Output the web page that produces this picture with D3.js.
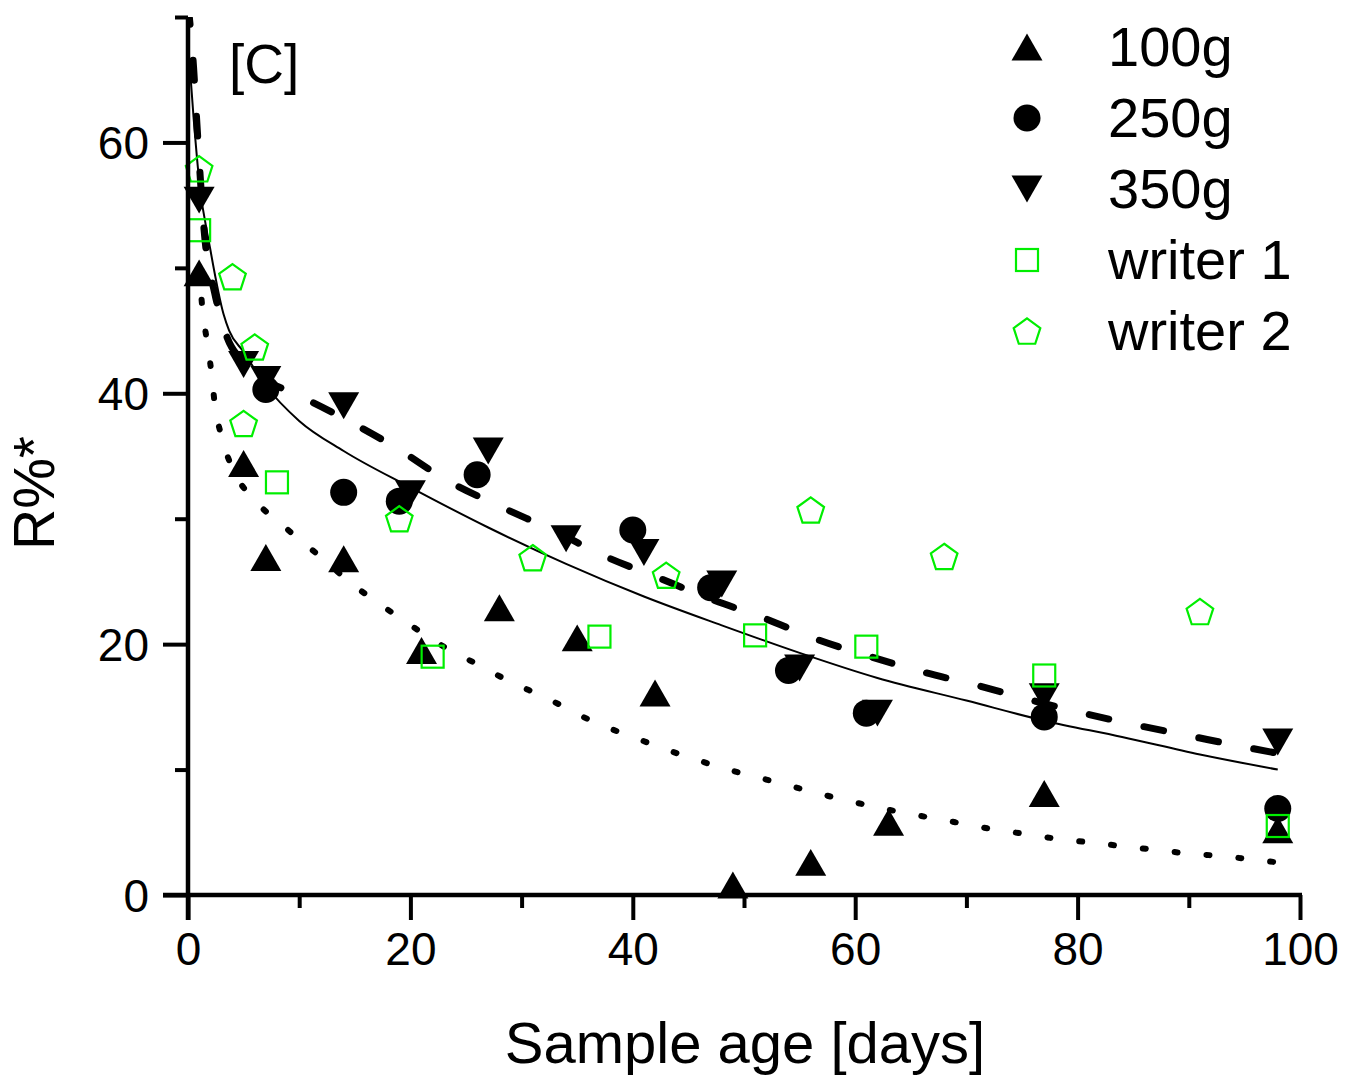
<!DOCTYPE html>
<html>
<head>
<meta charset="utf-8">
<script src="https://cdn.jsdelivr.net/npm/d3@7"></script>
<style>
  html, body { margin: 0; padding: 0; background: #fff; }
  svg { display: block; font-family: "Liberation Sans", Arial, sans-serif; }
</style>
</head>
<body>
<div id="chart"></div>
<script>
// Measured points [day, R%*]
const series100g = [[1, 49.6], [5, 34.4], [7, 26.9], [14, 26.8], [21, 19.5], [28, 22.9], [35, 20.5],
  [42, 16.1], [49, 0.8], [56, 2.6], [63, 5.8], [77, 8.1], [98, 5.2]];
const series250g = [[7, 40.3], [14, 32.1], [19, 31.4], [26, 33.5], [40, 29.1], [47, 24.5], [54, 17.9],
  [61, 14.5], [77, 14.2], [98, 6.9]];
const series350g = [[1, 55.4], [5, 42.3], [7, 41.1], [14, 39.0], [20, 32.0], [27, 35.4], [34, 28.4],
  [41, 27.3], [48, 24.8], [55, 18.1], [62, 14.5], [77, 15.8], [98, 12.2]];
const seriesWriter1 = [[1, 53.0], [8, 32.9], [22, 19.0], [37, 20.6], [51, 20.7], [61, 19.8], [77, 17.5], [98, 5.5]];
const seriesWriter2 = [[1, 57.9], [4, 49.3], [6, 43.7], [5, 37.6], [19, 30.0], [31, 26.9], [43, 25.5],
  [56, 30.7], [68, 27.0], [91, 22.6]];

// Fitted curves
const fitSolid = [[0, 68], [0.5, 62], [1, 57], [2, 51.5], [3.2, 46.3], [3.7, 45], [5, 43.3], [7, 40.6],
  [10, 37.8], [14, 35.4], [20, 32.5], [27, 29.3], [34, 26.4], [41, 23.8], [48, 21.5], [55, 19.3],
  [62, 17.3], [70, 15.5], [77, 13.9], [84, 12.6], [91, 11.2], [98, 10]];
const fitDashed = [[0, 71], [0.5, 66], [0.8, 61.5], [1.5, 52.5], [2.4, 48], [3.5, 44.5], [5, 42.5],
  [7, 41], [9, 40.2], [14, 38], [19, 35.5], [23, 33.2], [28, 31], [33, 29], [37.5, 27],
  [42, 25.4], [47, 23.6], [52, 22], [56.5, 20.4], [61, 19.1], [66, 17.8], [71, 16.7],
  [76, 15.5], [80.5, 14.5], [85, 13.6], [90, 12.7], [95, 11.8], [98, 11.3]];
const fitDotted = [[1, 50], [1.3, 46.7], [1.7, 44.2], [2.1, 41.7], [2.4, 39.2], [3, 36.6], [4, 34],
  [6, 31.5], [9, 29.1], [12, 26.9], [14.6, 24.9], [17.4, 23.1], [20.2, 21.4], [23, 19.8],
  [26, 18.4], [29, 17], [32, 15.8], [37, 13.6], [40, 12.6], [43, 11.6], [46, 10.7], [49, 9.9],
  [52, 9.2], [55, 8.5], [58, 7.8], [63, 6.8], [69, 5.8], [72, 5.3], [75, 4.9], [78, 4.5],
  [81, 4.2], [84, 3.9], [87, 3.6], [90, 3.3], [93, 3.1], [96, 2.8], [98, 2.6]];

const xTicksMajor = [0, 20, 40, 60, 80, 100];
const xTicksMinor = [10, 30, 50, 70, 90];
const yTicksMajor = [0, 20, 40, 60];
const yTicksMinor = [10, 30, 50, 70];
const legendLabels = ["100g", "250g", "350g", "writer 1", "writer 2"];

const W = 1356, H = 1088;
const margin = { top: 17, right: 56, bottom: 193, left: 188 };
const width = W - margin.left - margin.right;
const height = H - margin.top - margin.bottom;

const svg = d3.select("#chart").append("svg")
  .attr("width", W).attr("height", H);
const g = svg.append("g").attr("transform", `translate(${margin.left},${margin.top})`);

const x = d3.scaleLinear().domain([0, 100]).range([0, width]);
const y = d3.scaleLinear().domain([0, 70]).range([height, 0]);

const green = "#00ee00";

// marker shapes
function triUp(s) { return `M0,${-s * 0.87}L${s},${s * 0.87}L${-s},${s * 0.87}Z`; }
function triDown(s) { return `M0,${s * 0.87}L${s},${-s * 0.87}L${-s},${-s * 0.87}Z`; }
function pent(r) {
  const pts = d3.range(5).map(i => {
    const a = -Math.PI / 2 + i * 2 * Math.PI / 5;
    return [r * Math.cos(a), r * Math.sin(a) + r * 0.1];
  });
  return "M" + pts.map(p => p.join(",")).join("L") + "Z";
}

const markers = [
  { data: series100g, draw: sel => sel.append("path").attr("d", triUp(15.5)).attr("fill", "#000") },
  { data: series250g, draw: sel => sel.append("circle").attr("r", 13.5).attr("fill", "#000") },
  { data: series350g, draw: sel => sel.append("path").attr("d", triDown(15.5)).attr("fill", "#000") },
  { data: seriesWriter1, draw: sel => sel.append("rect").attr("x", -11).attr("y", -11).attr("width", 22).attr("height", 22)
      .attr("fill", "none").attr("stroke", green).attr("stroke-width", 2.2) },
  { data: seriesWriter2, draw: sel => sel.append("path").attr("d", pent(14))
      .attr("fill", "none").attr("stroke", green).attr("stroke-width", 2.2) }
];

// fitted lines
const line = d3.line().x(d => x(d[0])).y(d => y(d[1])).curve(d3.curveMonotoneX);
svg.append("defs").append("clipPath").attr("id", "clip")
  .append("rect").attr("x", 0).attr("y", 0).attr("width", width + 10).attr("height", height);

const lines = g.append("g").attr("clip-path", "url(#clip)");
lines.append("path").datum(fitDotted).attr("d", line)
  .attr("fill", "none").attr("stroke", "#000").attr("stroke-width", 6)
  .attr("stroke-linecap", "round").attr("stroke-dasharray", "3 29");
lines.append("path").datum(fitDashed).attr("d", line)
  .attr("fill", "none").attr("stroke", "#000").attr("stroke-width", 7)
  .attr("stroke-linecap", "round").attr("stroke-dasharray", "20 36");
lines.append("path").datum(fitSolid).attr("d", line)
  .attr("fill", "none").attr("stroke", "#000").attr("stroke-width", 2);

// scatter markers
markers.forEach(m => {
  m.data.forEach(d => {
    const grp = g.append("g").attr("transform", `translate(${x(d[0])},${y(d[1])})`);
    m.draw(grp);
  });
});

// axes
const xAxis = g.append("g").attr("transform", `translate(0,${height})`)
  .call(d3.axisBottom(x).tickValues(xTicksMajor).tickSize(25).tickPadding(12).tickFormat(d3.format("d")));
const xMinor = g.append("g").attr("transform", `translate(0,${height})`)
  .call(d3.axisBottom(x).tickValues(xTicksMinor).tickSize(13).tickFormat(""));
const yAxis = g.append("g")
  .call(d3.axisLeft(y).tickValues(yTicksMajor).tickSize(25).tickPadding(14).tickFormat(d3.format("d")));
const yMinor = g.append("g")
  .call(d3.axisLeft(y).tickValues(yTicksMinor).tickSize(13).tickFormat(""));

[xAxis, xMinor, yAxis, yMinor].forEach(a => {
  a.select(".domain").remove();
  a.selectAll(".tick line").attr("stroke", "#000").attr("stroke-width", 4);
  a.selectAll(".tick text").attr("font-size", 46).attr("fill", "#000")
    .attr("font-family", "'Liberation Sans', Arial, sans-serif");
});
yAxis.selectAll(".tick text").attr("dy", "0.35em");

// axis lines on top
g.append("line").attr("x1", -25).attr("x2", width + 2).attr("y1", height).attr("y2", height)
  .attr("stroke", "#000").attr("stroke-width", 4.5);
g.append("line").attr("x1", 0).attr("x2", 0).attr("y1", 0).attr("y2", height + 25)
  .attr("stroke", "#000").attr("stroke-width", 4.5);

// axis titles
svg.append("text").attr("x", 745).attr("y", 1063).attr("text-anchor", "middle")
  .attr("font-size", 58).text("Sample age [days]");
svg.append("text").attr("transform", "translate(54,493) rotate(-90)").attr("text-anchor", "middle")
  .attr("font-size", 57).text("R%*");

// panel label
svg.append("text").attr("x", 229).attr("y", 83).attr("font-size", 55).text("[C]");

// legend
const legend = svg.append("g");
legendLabels.forEach((lab, i) => {
  const cy = 47 + i * 71;
  const row = legend.append("g").attr("transform", `translate(1027,${cy})`);
  markers[i].draw(row);
  legend.append("text").attr("x", 1108).attr("y", cy + 19).attr("font-size", 56).text(lab);
});
</script>
</body>
</html>
